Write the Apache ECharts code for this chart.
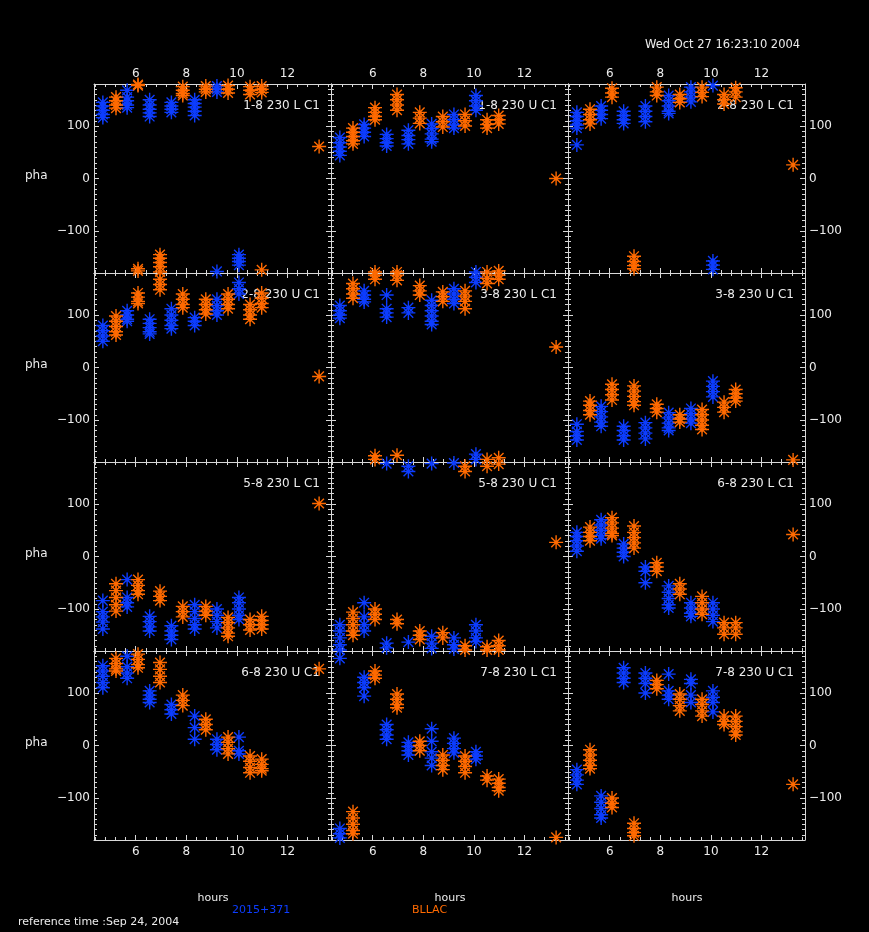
<!DOCTYPE html>
<html>
<head>
<meta charset="utf-8">
<script src="https://cdn.jsdelivr.net/npm/echarts@6/dist/echarts.min.js"></script>
<style>
  html, body { margin: 0; padding: 0; background: #000; }
  #chart { width: 869px; height: 932px; }
</style>
</head>
<body>
<div id="chart"></div>
<script>
// Scan times in hours after the reference time, one entry per scan.
const blueHours = [4.70, 5.66, 6.55, 7.41, 8.33, 9.21, 10.08];
const orangeHours = [5.22, 6.09, 6.96, 7.86, 8.77, 9.65, 10.52, 10.98, 13.25];

const sourceNames = ['2015+371', 'BLLAC'];
const panelTitles = [
  '1-8 230 L C1', '1-8 230 U C1', '2-8 230 L C1',
  '2-8 230 U C1', '3-8 230 L C1', '3-8 230 U C1',
  '5-8 230 L C1', '5-8 230 U C1', '6-8 230 L C1',
  '6-8 230 U C1', '7-8 230 L C1', '7-8 230 U C1'
];
const hourTicks = [6, 8, 10, 12];
const phaTicks = [-100, 0, 100];

// Phases (deg) per scan; each inner list belongs to the matching entry of blueHours / orangeHours.
const blue_1_8_L = [[145,138,130,122,116],[168,155,148,140,135],[150,140,132,125,118],[145,138,132,126],[150,143,136,128,120],[176,170,165,-177],[-145,-152,-158,-165]];
const orange_1_8_L = [[155,148,140,134],[177,179,-172,-176],[-145,-152,-160,-168,-178],[175,168,162,158],[176,170,165],[177,170,163],[175,168,160],[176,170,164,-174],[61]];

const blue_1_8_U = [[78,68,60,52,44],[103,96,88,80],[84,76,68,62],[92,82,74,66],[104,95,85,75,70],[122,112,102,96],[158,148,138,130,-178]];
const orange_1_8_U = [[96,88,80,72,66],[135,126,118,112,-178],[160,150,140,130,-178],[126,115,105],[118,108,98],[122,110,100],[112,103,96,-178],[120,112,104,-176],[0]];

const blue_2_8_L = [[126,118,110,102,96,64],[138,130,122,114],[128,120,112,105],[138,128,118,108],[158,148,138,128,124],[174,165,155,146],[177,-157,-165,-173]];
const orange_2_8_L = [[132,122,112,104],[172,163,155],[-148,-158,-166,-172],[174,165,158],[160,152,145],[174,164,156],[160,150,142],[173,165,155],[26]];

const blue_2_8_U = [[80,70,60,50],[108,100,92,88],[92,84,76,68,64],[112,100,90,80,74],[95,88,80],[130,118,108,100],[162,150,140]];
const orange_2_8_U = [[98,88,78,68,62],[142,134,126,122],[168,158,148],[140,130,120,114],[130,120,110,102],[140,130,120,112],[120,110,100,92],[142,132,122,114],[-17]];

const blue_3_8_L = [[118,108,100,94],[146,138,130,125],[138,112,104,96],[114,104],[128,118,108,98,88,82],[150,140,130,122],[172,162,-165,-175]];
const orange_3_8_L = [[160,150,140,132],[176,168,-168,-175],[176,166,-167],[156,146,138],[144,135,126],[146,136,126,112],[170,160,-175],[176,168,-172],[39]];

const blue_3_8_U = [[-108,-122,-130,-138],[-74,-84,-94,-104,-112],[-112,-120,-130,-138],[-105,-115,-125,-136],[-86,-96,-106,-115,-120],[-78,-88,-98,-106],[-26,-36,-46,-56]];
const orange_3_8_U = [[-64,-72,-82,-90],[-32,-42,-52,-62],[-35,-45,-55,-65,-72],[-70,-78,-85],[-90,-98,-104],[-80,-90,-100,-110,-118],[-66,-76,-85],[-42,-50,-58,-64],[-176]];

const blue_5_8_L = [[-84,-105,-115,-125,-138],[-44,-78,-88,-96],[-114,-124,-134,-142],[-132,-142,-150,-158],[-92,-105,-118,-130,-138],[-100,-112,-124,-136],[-78,-88,-100,-112,-120]];
const orange_5_8_L = [[-52,-65,-78,-92,-104],[-44,-55,-65,-72],[-66,-76,-84],[-95,-105,-115],[-95,-104,-112],[-116,-126,-136,-146,-152],[-120,-130,-140],[-114,-122,-130,-138],[101]];

const blue_5_8_U = [[-130,-142,-155,-168,-178],[-88,-115,-130,-142],[-165,-174,177],[-163,172,162],[-152,-165,-175,177],[-155,-168,-176,178],[-130,-142,-155,-162]];
const orange_5_8_U = [[-106,-118,-130,-142,-150],[-100,-110,-120],[-120,-128],[-142,-150,-158],[-145,-155],[-170,-178,172,162],[-172,-178,172],[-160,-170,-178,176],[27]];

const blue_6_8_L = [[46,38,30,20,10],[70,60,50,40,34],[24,16,8,0],[-20,-28,-50],[-56,-68,-80,-92,-98],[-88,-98,-108,-114],[-88,-100,-112,-124]];
const orange_6_8_L = [[56,46,38,30],[74,64,54,44,40],[58,46,36,26,16],[-12,-20,-28],[-52,-62,-72],[-76,-88,-100,-110],[-126,-136,-148],[-126,-136,-148],[42]];

const blue_6_8_U = [[152,142,132,120,110],[170,150,138,128],[104,96,88,82],[78,68,60],[56,34,12],[12,2,-8],[16,-10,-16]];
const orange_6_8_U = [[166,156,146,142],[174,164,154,148],[158,145,132,120],[96,86,76],[50,40,30],[16,6,-6,-16],[-20,-30,-42,-52],[-26,-36,-44,-48],[146]];

const blue_7_8_L = [[166,-158,-168,-176],[130,120,110,94],[40,30,20,12],[6,-2,-10,-18],[32,8,-12,-24,-38],[14,4,-6,-14],[-12,-20,-26]];
const orange_7_8_L = [[-126,-138,-150,-162,-168],[142,134,128],[98,88,78,72],[8,0,-10],[-18,-28,-38,-46],[-20,-30,-40,-52],[-58,-66],[-64,-72,-80,-86],[-175]];

const blue_7_8_U = [[-46,-56,-66,-74],[-96,-108,-120,-132,-138],[148,138,128,120],[138,128,118,100],[136,104,96,88],[126,118,96,82],[104,92,82,64]];
const orange_7_8_U = [[-8,-18,-28,-38,-44],[-100,-110,-118],[-148,-158,-166,-172],[124,116,108],[98,88,76,66],[88,78,66,56],[56,46,40],[56,46,36,26,20],[-74]];

const bluePanels = [blue_1_8_L, blue_1_8_U, blue_2_8_L, blue_2_8_U, blue_3_8_L, blue_3_8_U,
                    blue_5_8_L, blue_5_8_U, blue_6_8_L, blue_6_8_U, blue_7_8_L, blue_7_8_U];
const orangePanels = [orange_1_8_L, orange_1_8_U, orange_2_8_L, orange_2_8_U, orange_3_8_L, orange_3_8_U,
                      orange_5_8_L, orange_5_8_U, orange_6_8_L, orange_6_8_U, orange_7_8_L, orange_7_8_U];

// ---- layout & style ----
const W = 869;
const GRID_LEFT = [94, 331, 568];
const GRID_TOP = [84, 273, 462, 651];
const GW = 237, GH = 189;
const XMIN = 4.35, XMAX = 13.72, YMIN = -180, YMAX = 180;
const BLUE = '#0d3dff', ORANGE = '#ff6a00';
const AXIS = '#d8d8d8', TEXT = '#ececec';
const FONT = 'DejaVu Sans';

// minor tick positions: every 0.4 h and every 10 deg
const hourMinor = [];
for (let k = 11; k <= 34; k++) if (k % 5 !== 0) hourMinor.push(+(k * 0.4).toFixed(1));
const phaMinor = [];
for (let v = -170; v <= 170; v += 10) if (v % 100 !== 0) phaMinor.push(v);

// asterisk marker: horizontal, vertical and two diagonal strokes
const STAR = 'path://M0 45H100V55H0Z M45 0H55V100H45Z M12 19L19 12L88 81L81 88Z M81 12L88 19L19 88L12 81Z';

const fmtPha = v => (v < 0 ? '\u2212' + (-v) : String(v));

function xAxisDef(g, pos, major, showLabel) {
  return {
    type: 'value', gridIndex: g, position: pos, min: XMIN, max: XMAX,
    axisLine: { show: major, onZero: false, lineStyle: { color: AXIS, width: 1 } },
    axisTick: { show: true, inside: true, length: major ? 5 : 3,
                customValues: major ? hourTicks : hourMinor,
                lineStyle: { color: AXIS, width: 1 } },
    axisLabel: { show: showLabel, customValues: hourTicks, color: TEXT, fontSize: 12,
                 fontFamily: FONT, margin: pos === 'top' ? 4 : 6 },
    splitLine: { show: false }
  };
}
function yAxisDef(g, pos, major, showLabel) {
  return {
    type: 'value', gridIndex: g, position: pos, min: YMIN, max: YMAX,
    axisLine: { show: major, onZero: false, lineStyle: { color: AXIS, width: 1 } },
    axisTick: { show: true, inside: true, length: major ? 5 : 3,
                customValues: major ? phaTicks : phaMinor,
                lineStyle: { color: AXIS, width: 1 } },
    axisLabel: { show: showLabel, customValues: phaTicks, formatter: fmtPha, color: TEXT,
                 fontSize: 12, fontFamily: FONT, margin: 4 },
    splitLine: { show: false }
  };
}

const grids = [], xAxes = [], yAxes = [], series = [], titles = [];
const txt = (extra) => Object.assign({ color: TEXT, fontSize: 12, fontFamily: FONT, fontWeight: 'normal', lineHeight: 14 }, extra || {});

for (let i = 0; i < 12; i++) {
  const row = Math.floor(i / 3), col = i % 3;
  grids.push({ left: GRID_LEFT[col], top: GRID_TOP[row], width: GW, height: GH, outerBoundsMode: 'none' });
  const xi = xAxes.length, yi = yAxes.length;
  xAxes.push(xAxisDef(i, 'bottom', true, row === 3));
  xAxes.push(xAxisDef(i, 'bottom', false, false));
  xAxes.push(xAxisDef(i, 'top', true, row === 0));
  xAxes.push(xAxisDef(i, 'top', false, false));
  yAxes.push(yAxisDef(i, 'left', true, col === 0));
  yAxes.push(yAxisDef(i, 'left', false, false));
  yAxes.push(yAxisDef(i, 'right', true, col === 2));
  yAxes.push(yAxisDef(i, 'right', false, false));

  const bluePts = [];
  bluePanels[i].forEach((phs, j) => phs.forEach(p => bluePts.push([blueHours[j], p])));
  const orangePts = [];
  orangePanels[i].forEach((phs, j) => phs.forEach(p => orangePts.push([orangeHours[j], p])));

  series.push({
    type: 'scatter', name: sourceNames[0], xAxisIndex: xi, yAxisIndex: yi,
    data: bluePts, symbol: STAR, symbolSize: 14, itemStyle: { color: BLUE, opacity: 1 },
    silent: true, z: 3, animation: false
  });
  series.push({
    type: 'scatter', name: sourceNames[1], xAxisIndex: xi, yAxisIndex: yi,
    data: orangePts, symbol: STAR, symbolSize: 14, itemStyle: { color: ORANGE, opacity: 1 },
    silent: true, z: 4, animation: false
  });

  titles.push({
    text: panelTitles[i], right: W - (GRID_LEFT[col] + GW - 11), top: GRID_TOP[row] + 15,
    padding: 0, z: 1, textStyle: txt()
  });
}

// y-axis name on the left of each row
for (let r = 0; r < 4; r++) {
  titles.push({ text: 'pha', left: 25, top: GRID_TOP[r] + GH / 2 - 10, padding: 0, z: 1, textStyle: txt() });
}
// x-axis name under each column
for (let c = 0; c < 3; c++) {
  titles.push({ text: 'hours', left: GRID_LEFT[c] + GW / 2 - 15, top: 891, padding: 0, z: 1, textStyle: txt({ fontSize: 11 }) });
}
titles.push({ text: 'Wed Oct 27 16:23:10 2004', left: 645, top: 38, padding: 0, z: 1, textStyle: txt({ fontSize: 11.5 }) });
titles.push({ text: sourceNames[0], left: 232, top: 903, padding: 0, z: 1, textStyle: txt({ color: BLUE, fontSize: 11 }) });
titles.push({ text: sourceNames[1], left: 412, top: 903, padding: 0, z: 1, textStyle: txt({ color: ORANGE, fontSize: 11 }) });
titles.push({ text: 'reference time :Sep 24, 2004', left: 18, top: 915, padding: 0, z: 1, textStyle: txt({ fontSize: 11 }) });

const chart = echarts.init(document.getElementById('chart'), null, { renderer: 'canvas' });
chart.setOption({
  backgroundColor: '#000000',
  animation: false,
  title: titles,
  grid: grids,
  xAxis: xAxes,
  yAxis: yAxes,
  series: series
});
</script>
</body>
</html>
